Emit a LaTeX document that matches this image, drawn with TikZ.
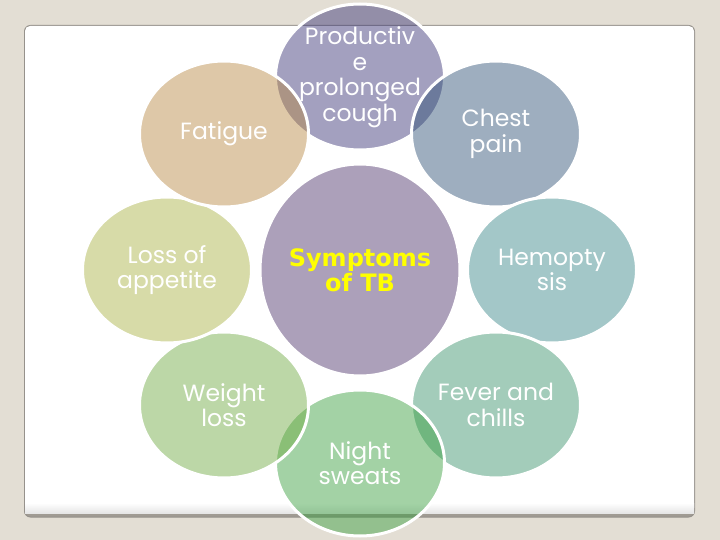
\documentclass[tikz,border=0pt]{standalone}
\usepackage{fontspec}
\setmainfont{Poppins}
\newfontfamily\symf{DejaVu Sans}
\usetikzlibrary{shapes.geometric}
\definecolor{bg}{RGB}{227,222,212}
\definecolor{bandgrey}{RGB}{160,155,147}
\definecolor{edgegrey}{RGB}{150,146,140}
\definecolor{cfatigue}{RGB}{182,135,64}
\definecolor{ccough}{RGB}{51,46,115}
\definecolor{cchest}{RGB}{42,77,115}
\definecolor{chemo}{RGB}{53,131,135}
\definecolor{cfever}{RGB}{53,142,104}
\definecolor{cnight}{RGB}{51,157,57}
\definecolor{cweight}{RGB}{108,168,62}
\definecolor{cappetite}{RGB}{168,177,64}
\definecolor{ccenter}{RGB}{71,46,102}
\definecolor{tbyellow}{RGB}{255,255,0}
\begin{document}
\begin{tikzpicture}[x=1pt,y=-1pt,
  blob/.style={ellipse, minimum width=169pt, minimum height=146pt, inner sep=0pt,
    draw=white, line width=3pt, fill opacity=0.45, draw opacity=1},
  lbl/.style={text=white, align=center, inner sep=0pt, font=\fontsize{23.5}{25.5}\selectfont},
  tblbl/.style={text=tbyellow, align=center, inner sep=0pt, font=\symf\bfseries\fontsize{24}{25}\selectfont}]
\useasboundingbox (0,0) rectangle (720,540);
\fill[bg] (0,0) rectangle (720,540);
% panel
\filldraw[rounded corners=6pt, fill=bandgrey, draw=edgegrey, line width=1pt] (24.5,25.5) rectangle (694.5,517);
\fill[white, rounded corners=5pt] (25,26) rectangle (694,513);
\shade[top color=white, bottom color=black!10] (25,503) rectangle (694,513);
% circles
\node[blob, fill=ccough] (cough) at (360,77) {};
\node[blob, fill=cchest] (chest) at (496,134) {};
\node[blob, fill=chemo] (hemo) at (552,270) {};
\node[blob, fill=cfever] (fever) at (496,405) {};
\node[blob, fill=cnight] (night) at (360,463) {};
\node[blob, fill=cweight] (weight) at (224,405) {};
\node[blob, fill=cappetite] (appetite) at (167,270) {};
\node[blob, fill=cfatigue] (fatigue) at (224,134) {};
\node[blob, fill=ccenter, minimum width=200pt, minimum height=212pt] (center) at (360,270) {};
% labels
\node[lbl] (tcough) at (cough) {Productiv\\e\\prolonged\\cough};
\node[lbl] (tchest) at (chest) {Chest\\pain};
\node[lbl] (themo) at (hemo) {Hemopty\\sis};
\node[lbl] (tfever) at (fever) {Fever and\\chills};
\node[lbl] (tnight) at (night) {Night\\sweats};
\node[lbl] (tweight) at (weight) {Weight\\loss};
\node[lbl] (tappetite) at (appetite) {Loss of\\appetite};
\node[lbl] (tfatigue) at (fatigue) {Fatigue};
\node[tblbl] (tcenter) at (center) {Symptoms\\of TB};
\end{tikzpicture}
\end{document}
